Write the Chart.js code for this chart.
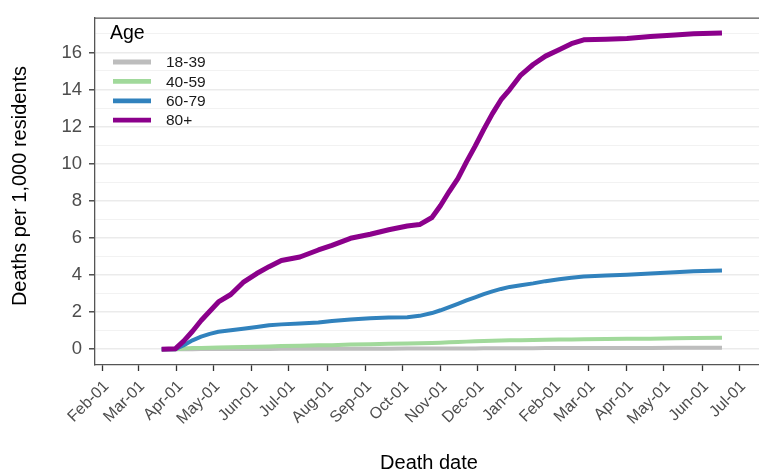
<!DOCTYPE html>
<html lang="en">
<head>
  <meta charset="UTF-8">
  <title>Deaths per 1,000 residents by age</title>
  <script src="https://cdn.jsdelivr.net/npm/chart.js"></script>
  <style>
    html, body { margin: 0; padding: 0; background: #fff; }
    #wrap { width: 759px; height: 476px; position: relative; }
  </style>
</head>
<body>
  <div id="wrap"><canvas id="deathsChart"></canvas></div>

  <script>
    // cumulative deaths per 1,000 residents
    const deathDates = [
      '2020-03-20', '2020-03-31', '2020-04-07', '2020-04-14', '2020-04-21', '2020-04-28',
      '2020-05-05', '2020-05-15', '2020-05-25', '2020-06-05', '2020-06-15', '2020-06-25',
      '2020-07-10', '2020-07-25', '2020-08-05', '2020-08-20', '2020-09-05', '2020-09-20',
      '2020-10-05', '2020-10-15', '2020-10-25', '2020-11-01', '2020-11-08', '2020-11-15',
      '2020-11-22', '2020-11-29', '2020-12-06', '2020-12-13', '2020-12-20', '2020-12-27',
      '2021-01-05', '2021-01-15', '2021-01-25', '2021-02-05', '2021-02-15', '2021-02-25',
      '2021-03-15', '2021-04-01', '2021-04-20', '2021-05-10', '2021-05-25', '2021-06-17'
    ];
    const age18to39 = [
      0, 0, 0.003, 0.005, 0.007, 0.009, 0.01, 0.012, 0.014, 0.016, 0.018, 0.02,
      0.022, 0.024, 0.026, 0.028, 0.03, 0.031, 0.033, 0.034, 0.036, 0.038, 0.04, 0.042,
      0.044, 0.046, 0.048, 0.05, 0.052, 0.054, 0.056, 0.058, 0.06, 0.062, 0.064, 0.066,
      0.068, 0.07, 0.072, 0.074, 0.076, 0.078
    ];
    const age40to59 = [
      0, 0, 0.04, 0.06, 0.07, 0.08, 0.09, 0.11, 0.12, 0.14, 0.15, 0.17,
      0.19, 0.21, 0.22, 0.25, 0.27, 0.29, 0.31, 0.32, 0.34, 0.35, 0.37, 0.39,
      0.41, 0.43, 0.44, 0.46, 0.47, 0.48, 0.49, 0.5, 0.51, 0.52, 0.53, 0.54,
      0.55, 0.56, 0.57, 0.59, 0.6, 0.62
    ];
    const age60to79 = [
      0, 0, 0.22, 0.48, 0.68, 0.83, 0.94, 1.02, 1.1, 1.2, 1.29, 1.34,
      1.39, 1.44, 1.52, 1.6, 1.67, 1.71, 1.73, 1.8, 1.95, 2.1, 2.27, 2.45,
      2.63, 2.8, 2.97, 3.12, 3.25, 3.36, 3.45, 3.55, 3.67, 3.77, 3.85, 3.92,
      3.97, 4.02, 4.08, 4.15, 4.2, 4.24
    ];
    const age80plus = [
      0, 0.02, 0.45, 0.97, 1.55, 2.05, 2.55, 2.95, 3.6, 4.08, 4.45, 4.78,
      4.97, 5.35, 5.6, 5.98, 6.2, 6.44, 6.64, 6.72, 7.1, 7.75, 8.5, 9.2,
      10.1, 10.95, 11.85, 12.7, 13.45, 14.0, 14.78, 15.35, 15.8, 16.15, 16.47, 16.68,
      16.71, 16.75, 16.86, 16.94, 17.0, 17.05
    ];

    const tickDates = [
      '2020-02-01', '2020-03-01', '2020-04-01', '2020-05-01', '2020-06-01', '2020-07-01',
      '2020-08-01', '2020-09-01', '2020-10-01', '2020-11-01', '2020-12-01', '2021-01-01',
      '2021-02-01', '2021-03-01', '2021-04-01', '2021-05-01', '2021-06-01', '2021-07-01'
    ];
    const tickLabels = [
      'Feb-01', 'Mar-01', 'Apr-01', 'May-01', 'Jun-01', 'Jul-01',
      'Aug-01', 'Sep-01', 'Oct-01', 'Nov-01', 'Dec-01', 'Jan-01',
      'Feb-01', 'Mar-01', 'Apr-01', 'May-01', 'Jun-01', 'Jul-01'
    ];
    const yTicks = [0, 1, 2, 3, 4, 5, 6, 7, 8, 9, 10, 11, 12, 13, 14, 15, 16, 17];

    // x is days since 2020-02-01 (no date adapter needed)
    const origin = Date.UTC(2020, 1, 1);
    const toDay = s => {
      const p = s.split('-').map(Number);
      return (Date.UTC(p[0], p[1] - 1, p[2]) - origin) / 86400000;
    };
    const tickDays = tickDates.map(toDay);

    const FONT = '"Liberation Sans", Arial, Helvetica, sans-serif';

    function series(values) {
      return deathDates.map((d, i) => ({ x: toDay(d), y: values[i] }));
    }

    const datasets = [
      { label: '18-39', data: series(age18to39), borderColor: '#bdbdbd', borderWidth: 4, order: 4 },
      { label: '40-59', data: series(age40to59), borderColor: '#a1d99b', borderWidth: 4, order: 3 },
      { label: '60-79', data: series(age60to79), borderColor: '#3182bd', borderWidth: 4, order: 2 },
      { label: '80+',   data: series(age80plus), borderColor: '#8b008b', borderWidth: 5, order: 1 }
    ];
    datasets.forEach(ds => {
      ds.pointRadius = 0;
      ds.tension = 0;
      ds.fill = false;
      ds.borderJoinStyle = 'round';
    });

    // legend inside the panel, axis titles and the top border
    const decorations = {
      id: 'decorations',
      afterDraw(chart) {
        const ctx = chart.ctx;
        const area = chart.chartArea;
        ctx.save();

        ctx.strokeStyle = '#555';
        ctx.lineWidth = 1.3;
        ctx.beginPath();
        ctx.moveTo(area.left, area.top);
        ctx.lineTo(area.right, area.top);
        ctx.stroke();

        ctx.fillStyle = '#000';
        ctx.textBaseline = 'middle';
        ctx.textAlign = 'left';
        ctx.font = '19.5px ' + FONT;
        ctx.fillText('Age', 110, 34);

        ctx.font = '15.5px ' + FONT;
        chart.data.datasets.forEach((ds, i) => {
          const y = 62 + i * 19.4;
          ctx.strokeStyle = ds.borderColor;
          ctx.lineWidth = 4.8;
          ctx.beginPath();
          ctx.moveTo(113, y);
          ctx.lineTo(151, y);
          ctx.stroke();
          ctx.fillStyle = '#1a1a1a';
          ctx.fillText(ds.label, 166, y + 1);
        });

        ctx.fillStyle = '#000';
        ctx.font = '20px ' + FONT;
        ctx.textAlign = 'center';
        ctx.fillText('Death date', 429, 463);

        ctx.translate(20, 186);
        ctx.rotate(-Math.PI / 2);
        ctx.fillText('Deaths per 1,000 residents', 0, 0);

        ctx.restore();
      }
    };

    new Chart(document.getElementById('deathsChart'), {
      type: 'line',
      data: { datasets },
      plugins: [decorations],
      options: {
        responsive: true,
        maintainAspectRatio: false,
        animation: false,
        layout: { padding: { top: 8, left: 0, right: 0, bottom: 0 } },
        plugins: {
          legend: { display: false },
          tooltip: { enabled: false }
        },
        scales: {
          x: {
            type: 'linear',
            min: -6,
            max: 532,
            afterBuildTicks: s => { s.ticks = tickDays.map(v => ({ value: v })); },
            afterFit: s => { s.height = 111; },
            ticks: {
              autoSkip: false,
              minRotation: 45,
              maxRotation: 45,
              padding: 6,
              labelOffset: 4,
              color: '#4d4d4d',
              font: { family: FONT, size: 16 },
              callback: (v, i) => tickLabels[i]
            },
            grid: {
              drawOnChartArea: false,
              drawTicks: true,
              tickLength: 6,
              tickColor: '#333',
              tickWidth: 1.3
            },
            border: { display: true, color: '#555', width: 1.3 }
          },
          y: {
            min: -0.85,
            max: 17.85,
            afterBuildTicks: s => { s.ticks = yTicks.map(v => ({ value: v })); },
            afterFit: s => { s.width = 95; },
            ticks: {
              autoSkip: false,
              padding: 7,
              color: '#4d4d4d',
              font: { family: FONT, size: 18.5 },
              callback: v => (v % 2 === 0 ? String(v) : '')
            },
            grid: {
              drawTicks: true,
              tickLength: 6,
              color: c => (c.tick && c.tick.value % 2 === 0 ? '#ebebeb' : '#f2f2f2'),
              lineWidth: c => (c.tick && c.tick.value % 2 === 0 ? 1.6 : 1),
              tickColor: c => (c.tick && c.tick.value % 2 === 0 ? '#333' : 'rgba(0,0,0,0)'),
              tickWidth: 1.3
            },
            border: { display: true, color: '#555', width: 1.3 }
          }
        }
      }
    });
  </script>
</body>
</html>
